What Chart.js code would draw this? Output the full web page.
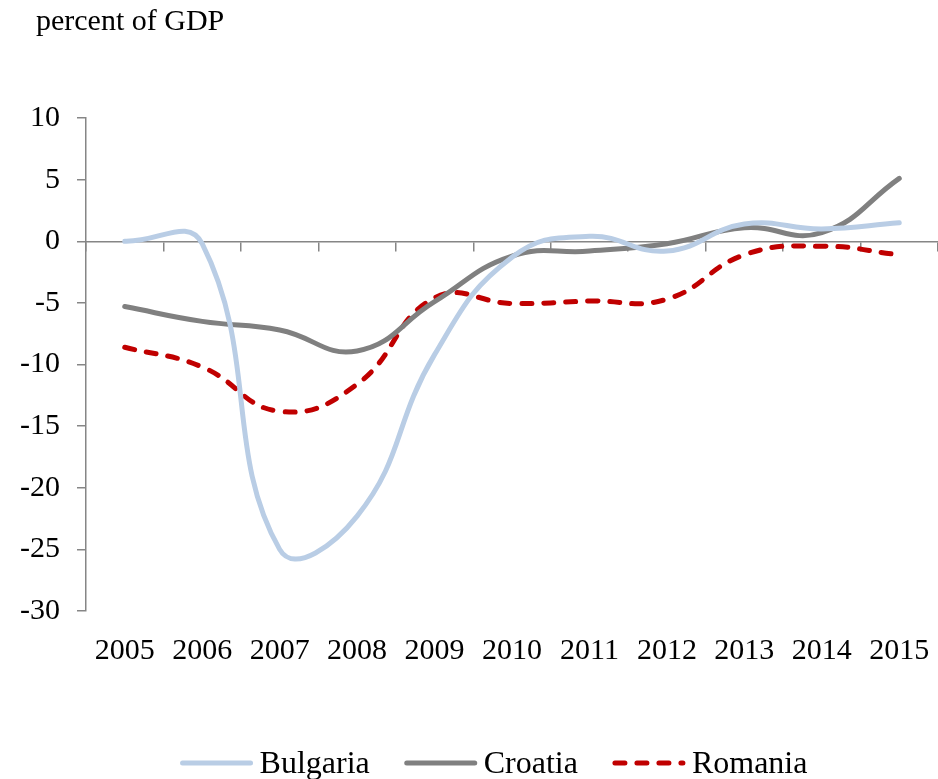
<!DOCTYPE html>
<html>
<head>
<meta charset="utf-8">
<title>percent of GDP</title>
<script src="https://cdn.jsdelivr.net/npm/chart.js@4"></script>
<style>
  html, body { margin: 0; padding: 0; background: #ffffff; }
  #wrap { width: 938px; height: 779px; }
</style>
</head>
<body>
<div id="wrap"><canvas id="chart" width="938" height="779"></canvas></div>
<script>
/*******************************************************
 * DATA
 *******************************************************/
const YEARS = ["2005", "2006", "2007", "2008", "2009", "2010", "2011", "2012", "2013", "2014", "2015"];
const BULGARIA = [0.0, -0.2, -25.0, -22.3, -9.2, -1.3, 0.4, -0.8, 1.4, 1.0, 1.5];
const CROATIA = [-5.3, -6.5, -7.2, -8.9, -4.9, -1.2, -0.8, -0.2, 1.1, 0.7, 5.1];
const ROMANIA = [-8.6, -10.2, -13.8, -11.6, -4.6, -5.05, -4.85, -4.7, -1.1, -0.4, -1.1];
const Y_MIN = -30;
const Y_MAX = 10;
const Y_STEP = 5;
const UNIT_LABEL = "percent of GDP";

/*******************************************************
 * STYLE
 *******************************************************/
const FONT = "'Liberation Serif', 'Times New Roman', serif";
const AXIS_COLOR = "#868686";

// unit label in the top left corner
const unitLabel = {
  id: "unitLabel",
  afterDraw(chart) {
    const ctx = chart.ctx;
    ctx.save();
    ctx.font = "30px " + FONT;
    ctx.fillStyle = "#000000";
    ctx.textBaseline = "alphabetic";
    ctx.textAlign = "left";
    ctx.fillText(UNIT_LABEL, 36, 30);
    ctx.restore();
  }
};

// legend drawn like the Excel one: line sample, small gap, name
const lineLegend = {
  id: "lineLegend",
  afterDraw(chart) {
    const ctx = chart.ctx;
    const sets = chart.data.datasets;
    const sample = 72, gapText = 7, gapItem = 35;
    const centerX = 494, lineY = 763, baseY = 773;
    ctx.save();
    ctx.font = "32px " + FONT;
    const widths = sets.map(ds => ctx.measureText(ds.label).width);
    let total = 0;
    widths.forEach((w, i) => { total += sample + gapText + w + (i > 0 ? gapItem : 0); });
    let x = centerX - total / 2;
    sets.forEach((ds, i) => {
      ctx.beginPath();
      ctx.strokeStyle = ds.borderColor;
      ctx.lineWidth = ds.borderWidth;
      ctx.lineCap = ds.borderCapStyle || "butt";
      ctx.setLineDash(ds.borderDash || []);
      ctx.moveTo(x + 2, lineY);
      ctx.lineTo(x + sample - 2, lineY);
      ctx.stroke();
      ctx.setLineDash([]);
      x += sample + gapText;
      ctx.fillStyle = "#000000";
      ctx.textBaseline = "alphabetic";
      ctx.textAlign = "left";
      ctx.fillText(ds.label, x, baseY);
      x += widths[i] + gapItem;
    });
    ctx.restore();
  }
};

function renderChart() {
  const ctx = document.getElementById("chart").getContext("2d");

  new Chart(ctx, {
    type: "line",
    data: {
      labels: YEARS,
      datasets: [
        {
          label: "Bulgaria",
          data: BULGARIA,
          borderColor: "#B9CDE5",
          backgroundColor: "#B9CDE5",
          borderWidth: 5,
          borderCapStyle: "round",
          pointRadius: 0,
          tension: 0.45
        },
        {
          label: "Croatia",
          data: CROATIA,
          borderColor: "#808080",
          backgroundColor: "#808080",
          borderWidth: 5,
          borderCapStyle: "round",
          pointRadius: 0,
          tension: 0.45
        },
        {
          label: "Romania",
          data: ROMANIA,
          borderColor: "#C00000",
          backgroundColor: "#C00000",
          borderWidth: 5,
          borderCapStyle: "round",
          borderDash: [10, 12],
          pointRadius: 0,
          tension: 0.45
        }
      ]
    },
    options: {
      responsive: false,
      animation: false,
      devicePixelRatio: 1,
      layout: {
        padding: { top: 118, left: 0, right: 0, bottom: 0 }
      },
      scales: {
        x: {
          type: "category",
          position: "bottom",
          offset: true,
          // invisible tick marks only push the year labels down
          grid: {
            display: true,
            drawOnChartArea: false,
            drawTicks: true,
            tickLength: 22,
            color: "rgba(0,0,0,0)"
          },
          border: { display: false },
          ticks: {
            font: { family: FONT, size: 30 },
            color: "#000000",
            padding: 0,
            maxRotation: 0,
            autoSkip: false
          },
          afterFit(scale) {
            scale.height = 168;
          }
        },
        // zero line with tick marks between the years
        x2: {
          type: "category",
          position: { y: 0 },
          offset: true,
          grid: {
            offset: true,
            drawOnChartArea: false,
            drawTicks: true,
            tickLength: 9,
            color: AXIS_COLOR,
            lineWidth: 1.5
          },
          border: { display: true, color: AXIS_COLOR, width: 1.5 },
          ticks: { display: false }
        },
        y: {
          min: Y_MIN,
          max: Y_MAX,
          ticks: {
            stepSize: Y_STEP,
            font: { family: FONT, size: 30 },
            color: "#000000",
            padding: 17
          },
          grid: {
            drawOnChartArea: false,
            drawTicks: true,
            tickLength: 9,
            color: AXIS_COLOR,
            lineWidth: 1.5
          },
          border: { display: true, color: AXIS_COLOR, width: 1.5 },
          afterFit(scale) {
            scale.width = 86;
          }
        }
      },
      plugins: {
        legend: { display: false },
        tooltip: { enabled: false },
        title: { display: false }
      }
    },
    plugins: [unitLabel, lineLegend]
  });
}

renderChart();
</script>
</body>
</html>
